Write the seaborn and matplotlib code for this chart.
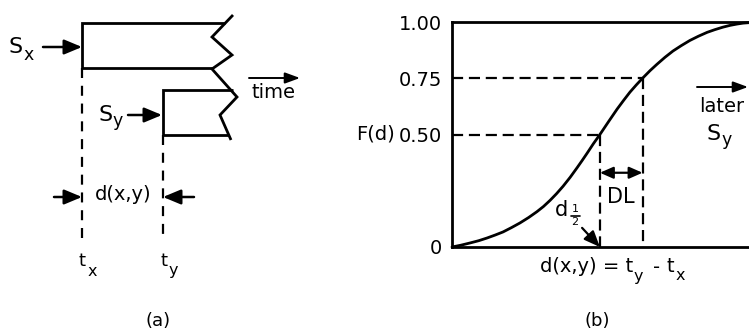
import numpy as np
import pandas as pd
import matplotlib
matplotlib.use("Agg")
import matplotlib.pyplot as plt
import seaborn as sns

# ---- data (panel b: cumulative distribution of the delay) ----
delay = [0.0, 0.030, 0.061, 0.090, 0.118, 0.145, 0.172, 0.200, 0.229, 0.258, 0.286,
         0.308, 0.330, 0.352, 0.374, 0.398, 0.421, 0.438, 0.455, 0.476, 0.498,
         0.527, 0.556, 0.578, 0.599, 0.621, 0.643, 0.667, 0.690, 0.717, 0.744,
         0.772, 0.801, 0.830, 0.859, 0.885, 0.912, 0.936, 0.960, 0.980, 1.0]
prob = [0.0, 0.008, 0.018, 0.028, 0.040, 0.053, 0.067, 0.086, 0.107, 0.131, 0.157,
        0.180, 0.207, 0.237, 0.270, 0.310, 0.352, 0.384, 0.417, 0.459, 0.500,
        0.557, 0.613, 0.652, 0.688, 0.721, 0.752, 0.784, 0.812, 0.843, 0.871,
        0.895, 0.918, 0.937, 0.954, 0.966, 0.977, 0.985, 0.991, 0.995, 0.997]
ytick_vals = [0, 0.5, 0.75, 1.0]
ytick_labels = ["0", "0.50", "0.75", "1.00"]
quantiles = [0.5, 0.75]

sns.set_theme(style="white")
plt.rcParams["font.family"] = ["DejaVu Sans"]
plt.rcParams["mathtext.default"] = "regular"
plt.rcParams["text.color"] = "black"
plt.rcParams["ytick.color"] = "black"

W, H = 749, 330
fig = plt.figure(figsize=(W / 100, H / 100), dpi=100)
fig.patch.set_facecolor("white")

FS = 13
SUB = 11.5
LW = 2.0
dash = (0, (5, 2.6))

# ---- panel (b) ----
ax = fig.add_axes([452 / W, 1 - 247 / H, 297 / W, 225 / H])
df = pd.DataFrame({"d": delay, "F": prob})
sns.lineplot(data=df, x="d", y="F", ax=ax, color="black", lw=LW, clip_on=False)
ax.set_xlim(0, 1)
ax.set_ylim(0, 1)
ax.set_xticks([])
ax.set_yticks(ytick_vals, ytick_labels)
ax.set_xlabel("")
ax.set_ylabel("")
ax.tick_params(axis="y", length=0, pad=7, labelsize=FS + 1, colors="black")
for s in ["left", "top", "bottom"]:
    ax.spines[s].set_color("black")
    ax.spines[s].set_linewidth(LW)
ax.spines["right"].set_visible(False)
ax.set_facecolor("none")

dq = [float(np.interp(q, prob, delay)) for q in quantiles]
for q, d in zip(quantiles, dq):
    ax.plot([0, d], [q, q], ls=dash, lw=1.6, color="black", clip_on=False)
    ax.plot([d, d], [q, 0], ls=dash, lw=1.6, color="black", clip_on=False)

arrow_kw = dict(arrowstyle="<|-|>,head_length=0.5,head_width=0.22", color="black",
                lw=1.6, shrinkA=0, shrinkB=0, mutation_scale=16)
ax.annotate("", xy=(dq[0], 0.33), xytext=(dq[1], 0.33), arrowprops=arrow_kw)
ax.text((dq[0] + dq[1]) / 2, 0.222, "DL", ha="center", va="center", fontsize=FS + 2)
ax.annotate("", xy=(dq[0], 0.0), xytext=(0.438, 0.085),
            arrowprops=dict(arrowstyle="-|>,head_length=0.6,head_width=0.25",
                            color="black", lw=1.6, shrinkA=0, shrinkB=0,
                            mutation_scale=16))

# ---- overlay for panel (a) and free labels ----
ov = fig.add_axes([0, 0, 1, 1], facecolor="none")
ov.set_xlim(0, W)
ov.set_ylim(H, 0)
ov.axis("off")

k = dict(color="black", lw=LW, solid_joinstyle="miter", solid_capstyle="butt")
# S_x block
ov.plot([225, 82, 82, 213], [23, 23, 68, 68], **k)
# S_y block
ov.plot([233, 163, 163, 228], [90, 90, 135, 135], **k)
# broken edge
ov.plot([233, 212, 232, 212, 237, 220, 231], [15, 37, 55, 69, 97, 115, 140], **k)

# dashed time marks
ov.plot([82, 82], [68, 241], ls=(0, (4.5, 3.5)), lw=1.6, color="black")
ov.plot([163, 163], [135, 241], ls=(0, (4.5, 3.5)), lw=1.6, color="black")

head = dict(arrowstyle="-|>,head_length=0.6,head_width=0.25", color="black",
            lw=1.8, shrinkA=0, shrinkB=0, mutation_scale=18)
small = dict(arrowstyle="-|>,head_length=0.6,head_width=0.22", color="black",
             lw=1.4, shrinkA=0, shrinkB=0, mutation_scale=15)
ov.annotate("", xy=(82, 47), xytext=(43, 47), arrowprops=head)
ov.annotate("", xy=(162, 115), xytext=(128, 115), arrowprops=head)
ov.annotate("", xy=(82, 197), xytext=(54, 197), arrowprops=head)
ov.annotate("", xy=(163, 197), xytext=(194, 197), arrowprops=head)
ov.annotate("", xy=(300, 78), xytext=(249, 78), arrowprops=small)
ov.annotate("", xy=(748, 87), xytext=(697, 87), arrowprops=small)


def t(x, y, s, fs=FS, ha="center"):
    ov.text(x, y, s, ha=ha, va="center", fontsize=fs)


# subscripted labels drawn as base letter + lowered letter
t(16, 47, "S", FS + 3)
t(29, 55, "x", SUB + 1)
t(106, 115, "S", FS + 3)
t(118, 121, "y", SUB + 1)
t(82, 261, "t")
t(92, 271, "x", SUB)
t(164, 261, "t")
t(173, 271, "y", SUB)
t(273, 93, "time", FS + 1)
t(123, 195, "d(x,y)", FS + 1)
t(158, 321, "(a)")

t(395, 134, "F(d)", FS + 1, ha="right")
t(722, 107, "later", FS + 1)
t(714, 134, "S", FS + 3)
t(727, 140, "y", SUB + 1)
t(633, 267, "d(x,y) = t", FS + 1, ha="right")
t(638, 276, "y", SUB)
t(657, 267, "-", FS + 1)
t(670, 267, "t", FS + 1)
t(680, 276, "x", SUB)
t(597, 321, "(b)")

# d 1/2 label
t(562, 210, "d", FS + 2)
t(575, 209, "1", 8)
ov.plot([571, 580], [215.5, 215.5], color="black", lw=1.2)
t(575, 222, "2", 8)

fig.savefig("out.png", dpi=100)
